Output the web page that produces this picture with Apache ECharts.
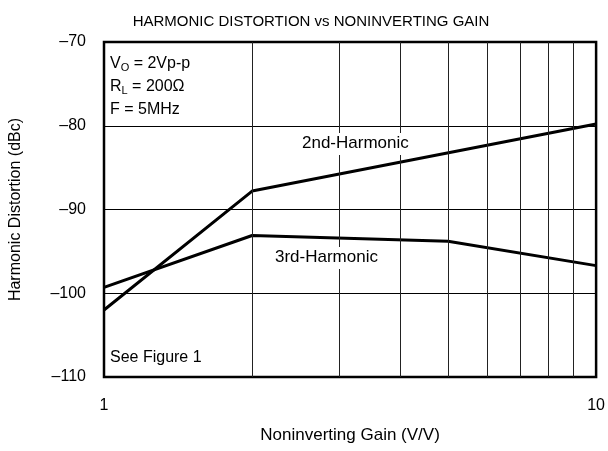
<!DOCTYPE html>
<html>
<head>
<meta charset="utf-8">
<script src="https://cdn.jsdelivr.net/npm/echarts@6/dist/echarts.min.js"></script>
<style>
  html, body { margin: 0; padding: 0; background: #fff; }
  #chart { width: 608px; height: 451px; }
</style>
</head>
<body>
<div id="chart"></div>
<script>
const FONT = 'Liberation Sans, Arial, sans-serif'

// gain (V/V) and distortion (dBc)
const gain2nd = [1, 2, 10]
const dist2nd = [-102, -87.8, -79.8]
const gain3rd = [1, 2, 5, 10]
const dist3rd = [-99.3, -93.1, -93.8, -96.7]
const minorGains = [2, 3, 4, 5, 6, 7, 8, 9]

const chart = echarts.init(document.querySelector('#chart'))

const option = {
    animation: false,
    backgroundColor: '#fff',
    textStyle: { fontFamily: FONT },
    title: {
        text: 'HARMONIC DISTORTION vs NONINVERTING GAIN',
        left: 306, top: 9, textAlign: 'center',
        textStyle: { fontFamily: FONT, fontSize: 15, fontWeight: 'normal', color: '#000' }
    },
    grid: {
        left: 102, top: 42, width: 496, height: 335,
        show: true, borderColor: '#000', borderWidth: 2.5, backgroundColor: 'transparent'
    },
    xAxis: {
        type: 'log', logBase: 10, min: 1, max: 10,
        name: 'Noninverting Gain (V/V)', nameLocation: 'middle', nameGap: 50,
        nameTextStyle: { fontFamily: FONT, fontSize: 17, color: '#000' },
        axisLine: { show: false }, axisTick: { show: false },
        axisLabel: { margin: 21, fontFamily: FONT, fontSize: 16, color: '#000' },
        splitLine: { show: false }
    },
    yAxis: {
        type: 'value', min: -110, max: -70, interval: 10,
        name: 'Harmonic Distortion (dBc)', nameLocation: 'middle', nameGap: 80,
        nameTextStyle: { fontFamily: FONT, fontSize: 16, color: '#000' },
        axisLine: { show: false }, axisTick: { show: false },
        axisLabel: {
            margin: 18, fontFamily: FONT, fontSize: 16, color: '#000',
            formatter: v => String(v).replace('-', '\u2013')
        },
        splitLine: { show: true, lineStyle: { color: '#000', width: 1 } }
    },
    series: [
        {
            name: 'grid', type: 'line', data: [], silent: true,
            markLine: {
                symbol: 'none', silent: true, label: { show: false },
                lineStyle: { color: '#222', width: 1, type: 'solid' },
                data: minorGains.map(g => ({ xAxis: g }))
            }
        },
        {
            name: '2nd-Harmonic', type: 'line', symbol: 'none',
            lineStyle: { color: '#000', width: 3 },
            data: gain2nd.map((g, i) => [g, dist2nd[i]])
        },
        {
            name: '3rd-Harmonic', type: 'line', symbol: 'none',
            lineStyle: { color: '#000', width: 3 },
            data: gain3rd.map((g, i) => [g, dist3rd[i]])
        }
    ],
    graphic: [
        { type: 'rect', left: 299, top: 133, shape: { width: 122, height: 22 }, style: { fill: '#fff' }, z: 90 },
        { type: 'text', left: 302, top: 135, z: 100, style: { text: '2nd-Harmonic', font: '17px ' + FONT, fill: '#000' } },
        { type: 'rect', left: 272, top: 247, shape: { width: 120, height: 22 }, style: { fill: '#fff' }, z: 90 },
        { type: 'text', left: 275, top: 249, z: 100, style: { text: '3rd-Harmonic', font: '17px ' + FONT, fill: '#000' } },
        {
            type: 'text', left: 110, top: 52, z: 100,
            style: {
                text: '{n|V}{s|O}{n| = 2Vp-p}\n{n|R}{s|L}{n| = 200\u03a9}\n{n|F = 5MHz}',
                lineHeight: 23,
                rich: {
                    n: { font: '16px ' + FONT, fill: '#000', lineHeight: 23 },
                    s: { font: '11px ' + FONT, fill: '#000', padding: [8, 0, 0, 0], lineHeight: 23 }
                }
            }
        },
        { type: 'text', left: 110, top: 350, z: 100, style: { text: 'See Figure 1', font: '16px ' + FONT, fill: '#000' } }
    ]
}

chart.setOption(option)
</script>
</body>
</html>
